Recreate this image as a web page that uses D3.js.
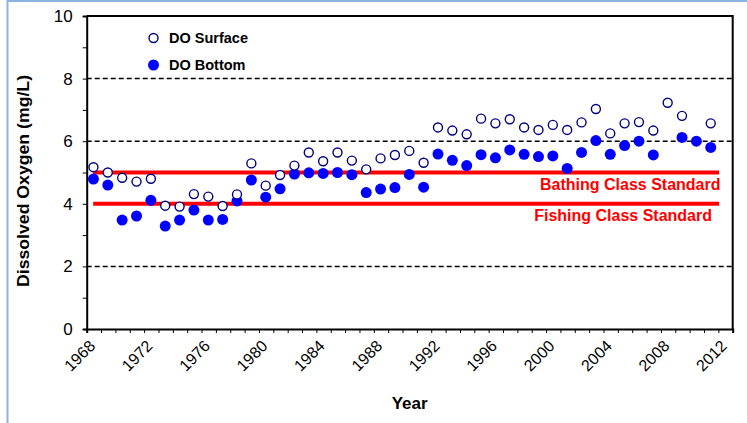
<!DOCTYPE html>
<html><head><meta charset="utf-8">
<script src="https://cdn.jsdelivr.net/npm/d3@7"></script>
<style>body{margin:0;background:#fff}svg{display:block}</style>
</head><body>
<script>
const years = d3.range(1968, 2012);
const surface = [5.17,5.00,4.83,4.71,4.80,3.94,3.91,4.31,4.23,3.93,4.30,5.29,4.58,4.92,5.22,5.64,5.36,5.64,5.38,5.10,5.45,5.56,5.69,5.31,6.44,6.34,6.22,6.72,6.57,6.70,6.44,6.36,6.52,6.36,6.60,7.03,6.25,6.57,6.61,6.34,7.23,6.81,null,6.57];
const bottom  = [4.79,4.60,3.48,3.61,4.11,3.29,3.48,3.80,3.48,3.50,4.09,4.76,4.21,4.48,4.95,4.99,4.97,5.00,4.93,4.36,4.47,4.52,4.94,4.53,5.59,5.39,5.22,5.57,5.47,5.72,5.58,5.51,5.53,5.13,5.64,6.02,5.58,5.86,6.00,5.56,null,6.12,6.00,5.80];
const standards = [{label:"Bathing Class Standard", value:5},{label:"Fishing Class Standard", value:4}];
const yMajor = [0,2,4,6,8,10];
const gridVals = [2,6,8];
const xLabels = d3.range(1968, 2013, 4);

const W = 747, H = 423;
const FONT = "Liberation Sans, Arial, sans-serif";
const svg = d3.select("body").append("svg").attr("width", W).attr("height", H);
const L = 86.7, R = 732.7, T = 16, B = 329;
const x = d3.scaleLinear().domain([1968, 2013]).range([L, R]);
const y = d3.scaleLinear().domain([0, 10]).range([B, T]);

// outer frame (light blue)
svg.append("line").attr("x1",7.5).attr("x2",7.5).attr("y1",0).attr("y2",H).attr("stroke","#8db3e2").attr("stroke-width",2);
svg.append("line").attr("x1",7).attr("x2",W).attr("y1",1).attr("y2",1).attr("stroke","#8db3e2").attr("stroke-width",2);

// gridlines
svg.append("g").selectAll("line").data(gridVals).join("line")
  .attr("x1", L).attr("x2", R).attr("y1", d=>y(d)).attr("y2", d=>y(d))
  .attr("stroke","#000").attr("stroke-width",1.5).attr("stroke-dasharray","5,3");

// plot border top/right
svg.append("path").attr("d",`M${L},${T}H${R}V${B}`).attr("fill","none").attr("stroke","#000").attr("stroke-width",2);

// y axis
const yAxis = d3.axisLeft(y).tickValues(yMajor).tickSize(4).tickPadding(10).tickFormat(d3.format("d"));
const gy = svg.append("g").attr("transform",`translate(${L},0)`).call(yAxis);
gy.select(".domain").attr("stroke-width",2);
gy.selectAll(".tick text").attr("font-family",FONT).attr("font-size",17).attr("fill","#000");
const gyMinor = svg.append("g").attr("transform",`translate(${L},0)`).call(d3.axisLeft(y).tickValues(d3.range(1,10,2)).tickSize(4).tickFormat(""));
gyMinor.select(".domain").remove();

// x axis
const gx = svg.append("g").attr("transform",`translate(0,${B})`).call(d3.axisBottom(x).tickValues(d3.range(1968,2014)).tickSize(4).tickFormat(""));
gx.select(".domain").attr("stroke-width",2);
const gxl = svg.append("g").attr("transform",`translate(0,${B})`).call(d3.axisBottom(x).tickValues(xLabels).tickSize(0).tickFormat(d3.format("d")));
gxl.select(".domain").remove();
gxl.selectAll(".tick text")
  .attr("font-family",FONT).attr("font-size",16).attr("fill","#000")
  .attr("text-anchor","end").attr("dy",null).attr("y",0)
  .attr("transform","translate(9,18) rotate(-45)");

// standards
const xs = d3.extent(years);
svg.append("g").selectAll("line").data(standards).join("line")
  .attr("x1", x(xs[0]+0.45)).attr("x2", x(xs[1]+1.05)).attr("y1", d=>y(d.value)).attr("y2", d=>y(d.value))
  .attr("stroke","#ff0000").attr("stroke-width",4);
svg.append("g").selectAll("text").data(standards).join("text")
  .attr("x", (d,i)=> i===0 ? 720.5 : 712).attr("y", d=>y(d.value)+17)
  .attr("text-anchor","end").attr("font-family",FONT)
  .attr("font-weight","bold").attr("font-size",16).attr("fill","#ff0000").text(d=>d.label);

// points
const xp = d => x(d + 0.47);
svg.append("g").selectAll("circle").data(years.map((yr,i)=>({yr, v:bottom[i]})).filter(d=>d.v!=null)).join("circle")
  .attr("cx", d=>xp(d.yr)).attr("cy", d=>y(d.v)).attr("r",5.5).attr("fill","#0000ff");
svg.append("g").selectAll("circle").data(years.map((yr,i)=>({yr, v:surface[i]})).filter(d=>d.v!=null)).join("circle")
  .attr("cx", d=>xp(d.yr)).attr("cy", d=>y(d.v)).attr("r",4.5).attr("fill","#fff").attr("stroke","#000080").attr("stroke-width",1.4);

// legend
const leg = svg.append("g").attr("font-family",FONT).attr("font-weight","bold").attr("font-size",14.5);
leg.append("circle").attr("cx",153.5).attr("cy",38).attr("r",4.5).attr("fill","#fff").attr("stroke","#000080").attr("stroke-width",1.4);
leg.append("text").attr("x",169).attr("y",43).text("DO Surface");
leg.append("circle").attr("cx",153.5).attr("cy",65).attr("r",5.5).attr("fill","#0000ff");
leg.append("text").attr("x",169).attr("y",70).text("DO Bottom");

// axis titles
svg.append("text").attr("x",(L+R)/2).attr("y",409).attr("text-anchor","middle")
  .attr("font-family",FONT).attr("font-weight","bold").attr("font-size",17).text("Year");
svg.append("text").attr("transform",`translate(29,181) rotate(-90)`).attr("text-anchor","middle")
  .attr("font-family",FONT).attr("font-weight","bold").attr("font-size",17)
  .attr("textLength",212).attr("lengthAdjust","spacingAndGlyphs").text("Dissolved Oxygen (mg/L)");
</script>
</body></html>
